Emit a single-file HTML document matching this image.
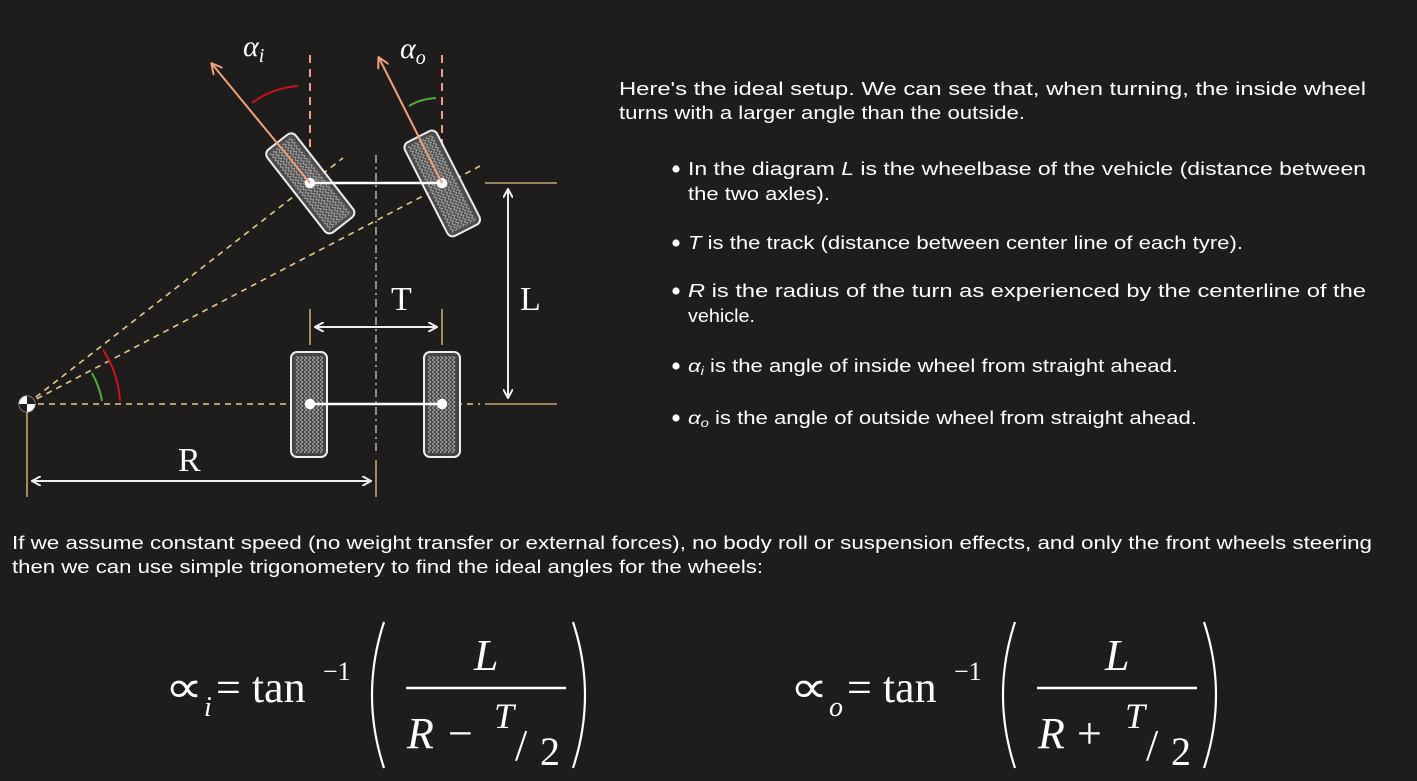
<!DOCTYPE html>
<html><head><meta charset="utf-8"><style>
html,body{margin:0;padding:0;background:#1e1d1c;}
svg{display:block}
text{font-family:"Liberation Sans",Arial,sans-serif;fill:#fff}
.s{font-family:"Liberation Serif",serif}
</style></head><body>
<svg width="1417" height="781" viewBox="0 0 1417 781">
<defs>
<pattern id="tread" width="8" height="8" patternUnits="userSpaceOnUse">
<path d="M0,0 L3,2 L0,4 L3,6 L0,8 M4,0 L7,2 L4,4 L7,6 L4,8" stroke="#aaa" stroke-width="0.9" fill="none"/>
</pattern>
<marker id="ah" markerWidth="10" markerHeight="10" refX="8" refY="5" orient="auto-start-reverse" markerUnits="userSpaceOnUse"><path d="M0,0 L9,5 L0,10" fill="none" stroke="#eee" stroke-width="2"/></marker>
<marker id="ao" markerWidth="12" markerHeight="12" refX="10" refY="6" orient="auto" markerUnits="userSpaceOnUse"><path d="M0,0 L11,6 L0,12" fill="none" stroke="#f0a07a" stroke-width="2"/></marker>
</defs>
<rect width="1417" height="781" fill="#1e1d1c"/>

<g>
<!-- dashed rays -->
<g stroke="#e8c98a" stroke-width="1.6" stroke-dasharray="6,5" fill="none">
<line x1="27" y1="404" x2="343" y2="158"/>
<line x1="27" y1="404" x2="480" y2="166"/>
<line x1="27" y1="404" x2="480" y2="404"/>
</g>
<g stroke="#f0a07a" stroke-width="2" stroke-dasharray="8,6">
<line x1="310" y1="55" x2="310" y2="180"/>
<line x1="442" y1="55" x2="442" y2="150"/>
</g>
<line x1="376" y1="155" x2="376" y2="455" stroke="#ccc" stroke-width="1.3" stroke-dasharray="8,4,2,4"/>
<!-- angle arcs -->
<path d="M252,103 Q272,88 298,86" stroke="#d0101a" stroke-width="2" fill="none"/>
<path d="M409,106 Q420,99 436,98" stroke="#4caf3a" stroke-width="2" fill="none"/>
<path d="M103,350 Q118,372 120,401" stroke="#d0101a" stroke-width="2" fill="none"/>
<path d="M92,373 Q100,388 102,401" stroke="#4caf3a" stroke-width="2" fill="none"/>

<!-- tyres -->
<g><rect x="291" y="352" width="36" height="105" rx="6" fill="#444" stroke="#eee" stroke-width="2"/><rect x="295" y="356" width="28" height="97" fill="url(#tread)"/></g>
<g><rect x="424" y="352" width="36" height="105" rx="6" fill="#444" stroke="#eee" stroke-width="2"/><rect x="428" y="356" width="28" height="97" fill="url(#tread)"/></g>
<g transform="rotate(-38 310 183)"><rect x="292" y="131" width="36" height="105" rx="6" fill="#555" fill-opacity="0.85" stroke="#eee" stroke-width="2"/><rect x="296" y="135" width="28" height="97" fill="url(#tread)"/></g>
<g transform="rotate(-27 442 183)"><rect x="424" y="131" width="36" height="105" rx="6" fill="#555" fill-opacity="0.85" stroke="#eee" stroke-width="2"/><rect x="428" y="135" width="28" height="97" fill="url(#tread)"/></g>

<!-- axles -->
<g stroke="#fff" stroke-width="2.5" fill="#fff">
<line x1="310" y1="183" x2="442" y2="183"/>
<line x1="310" y1="404" x2="442" y2="404"/>
<circle cx="310" cy="183" r="4"/><circle cx="442" cy="183" r="4"/><circle cx="310" cy="404" r="4"/><circle cx="442" cy="404" r="4"/>
</g>
<!-- heading arrows -->
<line x1="310" y1="183" x2="212" y2="64" stroke="#f0a07a" stroke-width="2" marker-end="url(#ao)"/>
<line x1="442" y1="183" x2="379" y2="58" stroke="#f0a07a" stroke-width="2" marker-end="url(#ao)"/>

<!-- dimension lines -->
<g stroke="#c8a56e" stroke-width="1.6">
<line x1="485" y1="183" x2="557" y2="183"/><line x1="485" y1="404" x2="557" y2="404"/>
<line x1="310" y1="309" x2="310" y2="345"/><line x1="442" y1="309" x2="442" y2="345"/>
<line x1="27" y1="412" x2="27" y2="497"/><line x1="376" y1="460" x2="376" y2="497"/>
</g>
<g stroke="#eee" stroke-width="2">
<line x1="508" y1="190" x2="508" y2="397" marker-start="url(#ah)" marker-end="url(#ah)"/>
<line x1="316" y1="327" x2="436" y2="327" marker-start="url(#ah)" marker-end="url(#ah)"/>
<line x1="33" y1="481" x2="370" y2="481" marker-start="url(#ah)" marker-end="url(#ah)"/>
</g>
<!-- pivot -->
<g>
<circle cx="27" cy="404" r="8" fill="#fff" stroke="#ccc"/>
<path d="M27,404 L27,396 A8,8 0 0 1 35,404 Z M27,404 L27,412 A8,8 0 0 1 19,404 Z" fill="#222"/>
</g>
<text class="s" x="243" y="56" font-size="30" font-style="italic">α<tspan font-size="20" dy="6">i</tspan></text>
<text class="s" x="400" y="58" font-size="30" font-style="italic">α<tspan font-size="20" dy="6">o</tspan></text>
<text class="s" x="391" y="310" font-size="34">T</text>
<text class="s" x="520" y="310" font-size="34">L</text>
<text class="s" x="178" y="471" font-size="34">R</text>
</g>

<g font-size="18">
<text x="619" y="95" textLength="747" lengthAdjust="spacingAndGlyphs">Here's the ideal setup. We can see that, when turning, the inside wheel</text>
<text x="619" y="119" textLength="406" lengthAdjust="spacingAndGlyphs">turns with a larger angle than the outside.</text>
<g fill="#fff"><circle cx="676" cy="169" r="3.6"/><circle cx="676" cy="243" r="3.6"/><circle cx="676" cy="291" r="3.6"/><circle cx="676" cy="366" r="3.6"/><circle cx="676" cy="418" r="3.6"/></g>
<text x="688" y="175" textLength="678" lengthAdjust="spacingAndGlyphs">In the diagram <tspan font-style="italic">L</tspan> is the wheelbase of the vehicle (distance between</text>
<text x="688" y="200" textLength="142" lengthAdjust="spacingAndGlyphs">the two axles).</text>
<text x="688" y="249" textLength="555" lengthAdjust="spacingAndGlyphs"><tspan font-style="italic">T</tspan> is the track (distance between center line of each tyre).</text>
<text x="688" y="297" textLength="678" lengthAdjust="spacingAndGlyphs"><tspan font-style="italic">R</tspan> is the radius of the turn as experienced by the centerline of the</text>
<text x="688" y="322" textLength="67" lengthAdjust="spacingAndGlyphs">vehicle.</text>
<text x="688" y="372" textLength="490" lengthAdjust="spacingAndGlyphs"><tspan font-style="italic">α</tspan><tspan font-style="italic" font-size="12" dy="3">i</tspan><tspan dy="-3"> is the angle of inside wheel from straight ahead.</tspan></text>
<text x="688" y="424" textLength="509" lengthAdjust="spacingAndGlyphs"><tspan font-style="italic">α</tspan><tspan font-style="italic" font-size="12" dy="3">o</tspan><tspan dy="-3"> is the angle of outside wheel from straight ahead.</tspan></text>
<text x="12" y="549" textLength="1360" lengthAdjust="spacingAndGlyphs">If we assume constant speed (no weight transfer or external forces), no body roll or suspension effects, and only the front wheels steering</text>
<text x="12" y="573" textLength="751" lengthAdjust="spacingAndGlyphs">then we can use simple trigonometery to find the ideal angles for the wheels:</text>
</g>

<g>
<text class="s" x="165" y="702" font-size="44" textLength="38" lengthAdjust="spacingAndGlyphs">∝</text>
<text class="s" x="204" y="716" font-size="28" font-style="italic">i</text>
<text class="s" x="216" y="702" font-size="44">= tan</text>
<text class="s" x="323" y="680" font-size="26">−1</text>
<path d="M384,622 Q360,695 384,768" stroke="#fff" stroke-width="2.2" fill="none"/>
<path d="M573,622 Q597,695 573,768" stroke="#fff" stroke-width="2.2" fill="none"/>
<line x1="406" y1="688" x2="566" y2="688" stroke="#fff" stroke-width="2.5"/>
<text class="s" x="474" y="670" font-size="44" font-style="italic">L</text>
<text class="s" x="407" y="748" font-size="44" font-style="italic">R</text>
<text class="s" x="448" y="748" font-size="44">−</text>
<text class="s" x="494" y="728" font-size="36" font-style="italic">T</text>
<text class="s" x="515" y="760" font-size="44">/</text>
<text class="s" x="540" y="765" font-size="40">2</text>
</g>
<g transform="translate(625,0)">
<text class="s" x="165" y="702" font-size="44" textLength="38" lengthAdjust="spacingAndGlyphs">∝</text>
<text class="s" x="204" y="716" font-size="28" font-style="italic">o</text>
<text class="s" x="222" y="702" font-size="44">= tan</text>
<text class="s" x="329" y="680" font-size="26">−1</text>
<path d="M390,622 Q366,695 390,768" stroke="#fff" stroke-width="2.2" fill="none"/>
<path d="M579,622 Q603,695 579,768" stroke="#fff" stroke-width="2.2" fill="none"/>
<line x1="412" y1="688" x2="572" y2="688" stroke="#fff" stroke-width="2.5"/>
<text class="s" x="480" y="670" font-size="44" font-style="italic">L</text>
<text class="s" x="413" y="748" font-size="44" font-style="italic">R</text>
<text class="s" x="452" y="748" font-size="44">+</text>
<text class="s" x="500" y="728" font-size="36" font-style="italic">T</text>
<text class="s" x="521" y="760" font-size="44">/</text>
<text class="s" x="546" y="765" font-size="40">2</text>
</g>
</svg>
</body></html>
